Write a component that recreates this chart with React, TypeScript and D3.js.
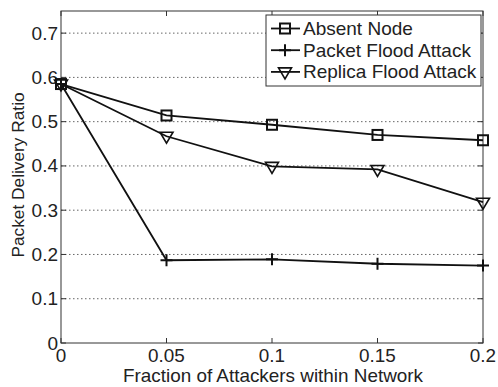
import React from "react";
import * as d3 from "d3";

const xValues = [0, 0.05, 0.1, 0.15, 0.2];
const absentNode = [0.585, 0.514, 0.493, 0.470, 0.458];
const packetFlood = [0.585, 0.187, 0.189, 0.179, 0.175];
const replicaFlood = [0.585, 0.467, 0.399, 0.392, 0.318];
const yTicks = [0, 0.1, 0.2, 0.3, 0.4, 0.5, 0.6, 0.7];
const xTicks = [0, 0.05, 0.1, 0.15, 0.2];
const seriesNames = ["Absent Node", "Packet Flood Attack", "Replica Flood Attack"];
const markers = ["square", "plus", "triangle"];

const W = 498, H = 387;
const m = { left: 61, right: 15, top: 11, bottom: 44 };

function Marker({ type, x, y }: { type: string; x: number; y: number }) {
  if (type === "square") return <rect x={x - 5} y={y - 5} width={10} height={10} fill="none" stroke="#111" strokeWidth={2} />;
  if (type === "plus") return <path d={`M${x - 6},${y}H${x + 6}M${x},${y - 6}V${y + 6}`} stroke="#111" strokeWidth={2} />;
  return <path d={`M${x - 6.5},${y - 4}L${x + 6.5},${y - 4}L${x},${y + 7}Z`} fill="none" stroke="#111" strokeWidth={1.6} />;
}

export default function App() {
  const x = d3.scaleLinear().domain([0, 0.2]).range([m.left, W - m.right]);
  const y = d3.scaleLinear().domain([0, 0.75]).range([H - m.bottom, m.top]);
  const line = d3.line<number>().x((_, i) => x(xValues[i])).y((d) => y(d));
  const series = [absentNode, packetFlood, replicaFlood];
  const font = "Liberation Sans, Arial, sans-serif";
  const x0 = m.left, x1 = W - m.right, y0 = H - m.bottom, y1 = m.top;
  const lg = { x: 266, y: 15, w: 215, h: 71 };
  const fs = 19;
  return (
    <svg width={W} height={H} style={{ position: "absolute", left: 0, top: 0, background: "#fff" }} fontFamily={font}>
      <rect width={W} height={H} fill="#fff" />
      {yTicks.filter((t) => t > 0).map((t) => (
        <line key={t} x1={x0} x2={x1} y1={y(t)} y2={y(t)} stroke="#666" strokeWidth={1} strokeDasharray="1.5,2.5" />
      ))}
      {yTicks.map((t) => (
        <g key={"yt" + t}>
          <line x1={x0} x2={x0 + 5} y1={y(t)} y2={y(t)} stroke="#333" />
          <line x1={x1} x2={x1 - 5} y1={y(t)} y2={y(t)} stroke="#333" />
          <text x={x0 - 3} y={y(t) + 6.5} fontSize={fs} textAnchor="end" fill="#222">{t === 0 ? "0" : t.toString()}</text>
        </g>
      ))}
      {xTicks.map((t) => (
        <g key={"xt" + t}>
          <line x1={x(t)} x2={x(t)} y1={y0} y2={y0 - 5} stroke="#333" />
          <line x1={x(t)} x2={x(t)} y1={y1} y2={y1 + 5} stroke="#333" />
          <text x={x(t)} y={y0 + 19} fontSize={18} textAnchor="middle" fill="#222"
            transform={`translate(${x(t)},0) scale(1.05,1) translate(${-x(t)},0)`}>{t === 0 ? "0" : t.toString()}</text>
        </g>
      ))}
      <rect x={x0} y={y1} width={x1 - x0} height={y0 - y1} fill="none" stroke="#333" strokeWidth={1} />
      {series.map((s, i) => (
        <g key={i}>
          <path d={line(s) || ""} fill="none" stroke="#111" strokeWidth={1.8} />
          {s.map((v, j) => <Marker key={j} type={markers[i]} x={x(xValues[j])} y={y(v)} />)}
        </g>
      ))}
      <text x={273} y={382} fontSize={18} textAnchor="middle" fill="#222"
        transform="translate(273,0) scale(1.05,1) translate(-273,0)">Fraction of Attackers within Network</text>
      <text transform={`translate(24,175) rotate(-90)`} fontSize={17.3} textAnchor="middle" fill="#222">Packet Delivery Ratio</text>
      <rect x={lg.x} y={lg.y} width={lg.w} height={lg.h} fill="#fff" stroke="#333" strokeWidth={1} />
      {seriesNames.map((n, i) => {
        const ly = lg.y + 13.5 + i * 21.7;
        return (
          <g key={n}>
            <line x1={lg.x + 5} x2={lg.x + 34} y1={ly} y2={ly} stroke="#111" strokeWidth={1.8} />
            <Marker type={markers[i]} x={lg.x + 19} y={ly} />
            <text x={lg.x + 37} y={ly + 6.5} fontSize={fs} fill="#222">{n}</text>
          </g>
        );
      })}
    </svg>
  );
}
